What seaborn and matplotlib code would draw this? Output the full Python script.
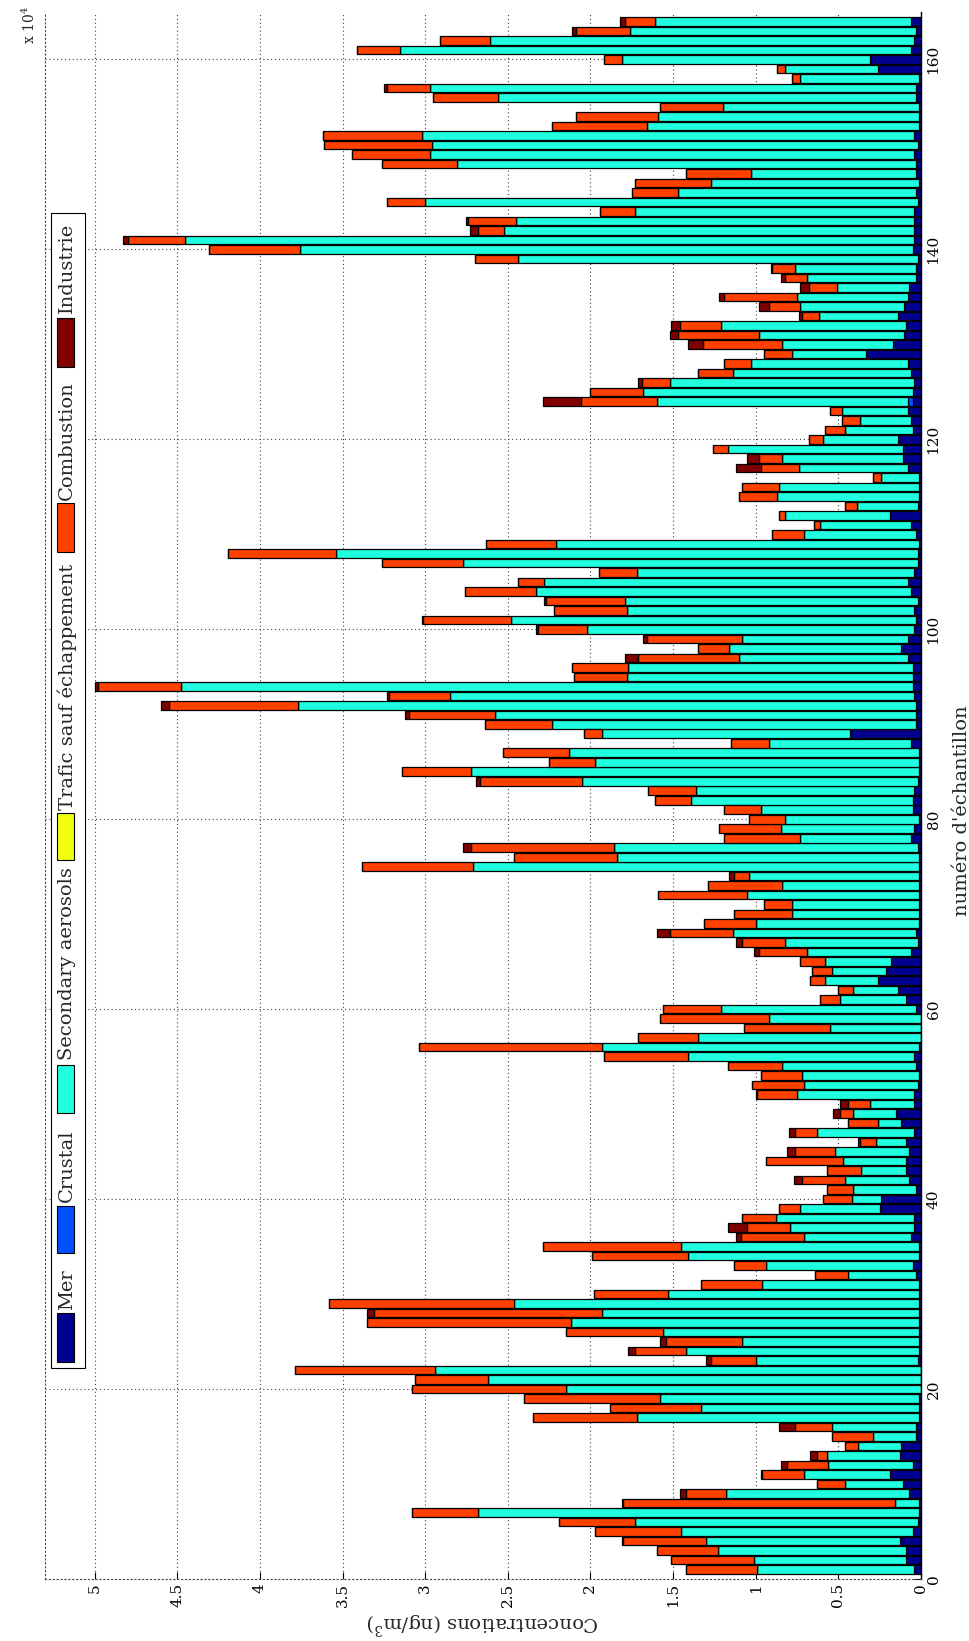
import numpy as np
import matplotlib
matplotlib.use("Agg")
import matplotlib.pyplot as plt
from matplotlib.patches import Rectangle
import seaborn as sns

# Concentrations par source et par échantillon, en unités de 10^4 ng/m3
samples = list(range(1, 165))

mer = [
    .04, .09, .09, .13, .05, .02, .01, .01, .07, .11,
    .19, .05, .13, .12, .03, .03, .01, .01, .01, .00,
    .00, .00, .02, .01, .01, .01, .01, .01, .01, .01,
    .01, .03, .05, .01, .01, .06, .04, .04, .25, .24,
    .03, .07, .09, .09, .07, .09, .04, .12, .15, .04,
    .04, .02, .01, .03, .04, .01, .00, .00, .00, .03,
    .09, .14, .26, .21, .18, .06, .02, .03, .01, .01,
    .01, .01, .01, .01, .01, .01, .02, .06, .04, .01,
    .05, .05, .04, .02, .01, .01, .01, .06, .43, .03,
    .03, .03, .04, .05, .05, .05, .08, .12, .08, .04,
    .03, .04, .02, .06, .08, .04, .02, .02, .01, .03,
    .06, .19, .02, .01, .01, .01, .08, .11, .11, .14,
    .05, .06, .08, .05, .05, .04, .06, .08, .33, .17,
    .10, .09, .14, .10, .08, .07, .03, .03, .02, .05,
    .04, .04, .04, .04, .02, .03, .01, .03, .03, .04,
    .02, .04, .01, .01, .01, .03, .03, .01, .26, .31,
    .06, .04, .03, .06,
]

crustal_nonzero = {124: .03}
crustal = [crustal_nonzero.get(s, 0.0) for s in samples]

secondary = [
    .95, .92, 1.14, 1.17, 1.40, 1.71, 2.67, .15, 1.11, .35,
    .52, .51, .44, .26, .26, .51, 1.71, 1.32, 1.57, 2.15,
    2.62, 2.94, .98, 1.41, 1.07, 1.55, 2.11, 1.92, 2.45, 1.52,
    .95, .41, .89, 1.40, 1.44, .65, .75, .84, .48, .18,
    .38, .39, .27, .38, .45, .18, .59, .14, .26, .27,
    .71, .69, .71, .81, 1.37, 1.92, 1.35, .55, .92, 1.18,
    .40, .27, .32, .33, .40, .63, .80, 1.11, .99, .77,
    .77, 1.04, .83, 1.03, 2.70, 1.83, 1.84, .67, .81, .81,
    .92, 1.34, 1.32, 2.03, 2.71, 1.96, 2.12, .86, 1.50, 2.20,
    2.55, 3.74, 2.81, 4.43, 1.73, 1.72, 1.02, 1.04, 1.00, 1.98,
    2.45, 1.74, 1.77, 2.27, 2.20, 1.68, 2.75, 3.52, 2.20, .68,
    .55, .63, .37, .86, .85, .23, .66, .73, 1.06, .45,
    .41, .31, .40, 1.52, 1.63, 1.48, 1.08, .95, .45, .67,
    .88, 1.12, .48, .63, .67, .44, .66, .73, 2.42, 3.71,
    4.41, 2.48, 2.41, 1.69, 2.98, 1.44, 1.26, 1.00, 2.78, 2.93,
    2.94, 2.98, 1.65, 1.58, 1.19, 2.53, 2.94, .72, .56, 1.50,
    3.09, 2.57, 1.73, 1.55,
]

trafic = [0.0] * len(samples)

combustion = [
    .43, .50, .37, .50, .52, .46, .40, 1.64, .24, .17,
    .25, .25, .06, .08, .25, .22, .63, .55, .82, .93,
    .44, .85, .27, .31, .46, .59, 1.23, 1.38, 1.12, .45,
    .37, .20, .19, .58, .84, .38, .26, .20, .13, .17,
    .16, .26, .21, .47, .24, .10, .13, .18, .08, .13,
    .24, .31, .25, .33, .51, 1.11, .36, .52, .66, .35,
    .12, .09, .09, .12, .15, .29, .26, .38, .31, .35,
    .17, .54, .45, .09, .67, .62, .86, .46, .37, .22,
    .22, .22, .29, .62, .42, .28, .40, .23, .11, .41,
    .52, .78, .37, .50, .32, .34, .61, .19, .58, .30,
    .53, .44, .48, .43, .16, .23, .49, .65, .42, .19,
    .04, .04, .07, .23, .22, .05, .23, .14, .09, .09,
    .12, .11, .07, .46, .32, .17, .21, .16, .17, .48,
    .49, .25, .10, .19, .44, .17, .13, .14, .26, .55,
    .35, .16, .29, .21, .23, .28, .46, .39, .45, .47,
    .65, .60, .57, .50, .38, .39, .26, .05, .05, .11,
    .26, .30, .33, .18,
]

industrie = [
    0, 0, 0, .01, 0, 0, 0, .01, .04, 0,
    .01, .04, .04, 0, 0, .10, 0, 0, 0, 0,
    0, 0, .03, .04, .04, 0, 0, .04, 0, 0,
    0, 0, 0, 0, 0, .03, .12, 0, 0, 0,
    0, .05, 0, 0, .05, .01, .04, 0, .04, .05,
    .01, 0, 0, 0, 0, 0, 0, 0, 0, 0,
    0, 0, 0, 0, 0, .03, .04, .08, 0, 0,
    0, 0, 0, .03, 0, 0, .05, 0, 0, 0,
    0, 0, 0, .02, 0, 0, 0, 0, 0, 0,
    .02, .05, .01, .02, 0, 0, .08, 0, .02, .01,
    .01, 0, .01, 0, 0, 0, 0, 0, 0, 0,
    0, 0, 0, 0, 0, 0, .15, .07, 0, 0,
    0, 0, 0, .23, 0, .02, 0, 0, 0, .09,
    .05, .05, .02, .06, .03, .05, .03, .01, 0, 0,
    .03, .05, .01, 0, 0, 0, 0, 0, 0, 0,
    0, 0, 0, 0, 0, 0, .02, 0, 0, 0,
    0, 0, .02, .03,
]

source_names = ["Mer", "Crustal", "Secondary aerosols",
                "Trafic sauf échappement", "Combustion", "Industrie"]
source_values = [mer, crustal, secondary, trafic, combustion, industrie]
source_colors = ["#00008F", "#0050FF", "#20FFDF", "#EFFF10", "#FF4000", "#800000"]

value_ticks = [0, 0.5, 1, 1.5, 2, 2.5, 3, 3.5, 4, 4.5, 5]
value_tick_labels = ["0", "0.5", "1", "1.5", "2", "2.5", "3", "3.5", "4", "4.5", "5"]
sample_ticks = [0, 20, 40, 60, 80, 100, 120, 140, 160]

sns.set_theme(style="white")
plt.rcParams["font.family"] = ["DejaVu Serif"]
plt.rcParams["mathtext.fontset"] = "dejavuserif"

W, H = 969, 1641
fig = plt.figure(figsize=(W / 100, H / 100), dpi=100)
fig.patch.set_facecolor("white")

# axes box in pixels: value axis runs right-to-left, sample axis bottom-to-top
ax_l, ax_r, ax_t, ax_b = 45, 921, 12, 1579
ax = fig.add_axes([ax_l / W, 1 - ax_b / H, (ax_r - ax_l) / W, (ax_b - ax_t) / H])
ax.set_facecolor("white")

left = np.zeros(len(samples))
for vals, col in zip(source_values, source_colors):
    sns.barplot(x=vals, y=samples, orient="h", native_scale=True,
                color=col, saturation=1, errorbar=None, width=0.9,
                left=left.copy(), edgecolor="black", linewidth=0.9, ax=ax)
    left += np.asarray(vals, dtype=float)

ax.set_xlim(5.3, 0)
ax.set_ylim(0, 165)

dotted = (0, (1, 2.5))
ax.set_axisbelow(True)
ax.grid(True, linestyle=dotted, color="#444444", linewidth=0.8)

ax.set_xticks(value_ticks)
ax.set_xticklabels(value_tick_labels, rotation=90)
ax.set_yticks(sample_ticks)
ax.set_yticklabels([str(t) for t in sample_ticks], rotation=90, va="center")
ax.yaxis.tick_right()
ax.tick_params(axis="x", direction="in", length=5, width=0.8, pad=3,
               labelsize=11, bottom=True, top=False, colors="black")
ax.tick_params(axis="y", direction="in", length=5, width=0.8, pad=4,
               labelsize=11, right=True, left=False, colors="black")

for side in ("left", "bottom"):
    ax.spines[side].set_linestyle(dotted)
    ax.spines[side].set_color("#444444")
    ax.spines[side].set_linewidth(0.8)
ax.spines["top"].set_visible(False)
ax.spines["right"].set_color("black")
ax.spines["right"].set_linewidth(1.0)

ax.set_xlabel("Concentrations (ng/m$^3$)", fontsize=14, rotation=180,
              va="center", ha="center")
ax.xaxis.set_label_coords(0.5, -0.028)
ax.yaxis.set_label_position("right")
ax.set_ylabel("numéro d'échantillon", fontsize=14, rotation=90,
              va="center", ha="center")
ax.yaxis.set_label_coords(1.047, 0.49)

# multiplier of the value axis, top-left corner of the figure
fig.text(0.03, 0.985, r"x 10$^4$", rotation=90, fontsize=10,
         ha="center", va="center", transform=fig.transFigure)

# legend column, read bottom-to-top
def fx(px):
    return px / W

def fy(py):
    return 1 - py / H

box_x0, box_x1, box_top, box_bot = 51, 85, 213, 1368
fig.add_artist(Rectangle((fx(box_x0), fy(box_bot)), (box_x1 - box_x0) / W,
                         (box_bot - box_top) / H, transform=fig.transFigure,
                         facecolor="white", edgecolor="black", linewidth=0.8))

patch_spans = [(1313, 1362), (1206, 1253), (1065, 1113), (813, 860), (503, 552), (318, 367)]
text_bottoms = [1310, 1202, 1060, 810, 500, 313]
for name, col, (p0, p1), tb in zip(source_names, source_colors, patch_spans, text_bottoms):
    fig.add_artist(Rectangle((fx(57), fy(p1)), 17 / W, (p1 - p0) / H,
                             transform=fig.transFigure, facecolor=col,
                             edgecolor="black", linewidth=0.8))
    fig.text(fx(67), fy(tb), name, rotation=90, fontsize=14,
             ha="center", va="bottom")

fig.savefig("out.png", dpi=100, facecolor="white")
